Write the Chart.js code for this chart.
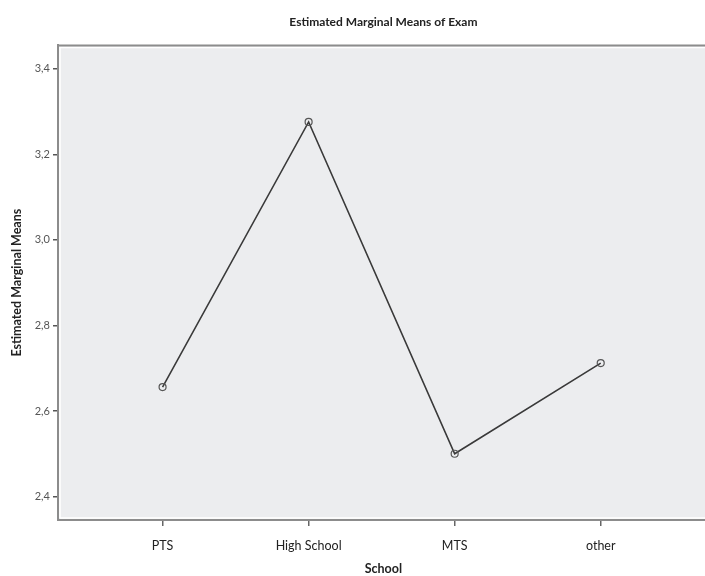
<!DOCTYPE html>
<html>
<head>
<meta charset="utf-8">
<script src="https://cdn.jsdelivr.net/npm/chart.js@4.4.1/dist/chart.umd.min.js"></script>
<style>
    html, body { margin: 0; padding: 0; background: #fff; overflow: hidden; }
    #wrap { width: 714px; height: 576px; }
</style>
</head>
<body>
<div id="wrap"><canvas id="meansChart"></canvas></div>
<script>
const schools = ['PTS', 'High School', 'MTS', 'other'];
const examMeans = [2.656, 3.276, 2.500, 2.712];
const yTicks = [2.4, 2.6, 2.8, 3.0, 3.2, 3.4];

const FONT = 'Lato, "Open Sans", sans-serif';

// grey plot panel with a thin white inner edge and the top frame line
const panelPlugin = {
    id: 'panel',
    beforeDraw(chart) {
        const { ctx, chartArea: a } = chart;
        ctx.save();
        ctx.fillStyle = '#ecedef';
        ctx.fillRect(a.left, a.top, a.right - a.left, a.bottom - a.top);
        ctx.strokeStyle = '#ffffff';
        ctx.lineWidth = 1.5;
        ctx.beginPath();
        ctx.moveTo(a.left + 2, a.bottom - 2);
        ctx.lineTo(a.left + 2, a.top + 2);
        ctx.lineTo(a.right, a.top + 2);
        ctx.moveTo(a.left + 2, a.bottom - 2);
        ctx.lineTo(a.right, a.bottom - 2);
        ctx.stroke();
        ctx.strokeStyle = '#8c8c8c';
        ctx.lineWidth = 2;
        ctx.beginPath();
        ctx.moveTo(a.left, a.top);
        ctx.lineTo(a.right, a.top);
        ctx.stroke();
        ctx.restore();
    }
};

const ctx = document.getElementById('meansChart').getContext('2d');

new Chart(ctx, {
    type: 'line',
    data: {
        datasets: [{
            label: 'Exam',
            data: examMeans.map((v, i) => ({ x: i, y: v })),
            borderColor: '#3a3a3a',
            borderWidth: 1.6,
            pointRadius: 3.5,
            pointBorderWidth: 1.2,
            pointBorderColor: '#555',
            pointBackgroundColor: 'rgba(0,0,0,0)',
            tension: 0
        }]
    },
    options: {
        responsive: true,
        maintainAspectRatio: false,
        animation: false,
        layout: { padding: { left: 0, right: 0, top: 0, bottom: 0 } },
        plugins: {
            legend: { display: false },
            tooltip: { enabled: false },
            title: {
                display: true,
                text: 'Estimated Marginal Means of Exam',
                fullSize: false,
                color: '#222',
                font: { family: FONT, size: 12, weight: 'bold' },
                padding: { top: 15, bottom: 16 }
            }
        },
        scales: {
            x: {
                type: 'linear',
                min: -0.716,
                max: 3.74,
                afterBuildTicks(scale) {
                    scale.ticks = schools.map((_, i) => ({ value: i }));
                },
                afterFit(scale) { scale.height = 56; },
                ticks: {
                    callback: (v) => schools[v],
                    color: '#222',
                    font: { family: FONT, size: 12.5 },
                    padding: 12,
                    maxRotation: 0,
                    autoSkip: false
                },
                grid: {
                    drawOnChartArea: false,
                    drawTicks: true,
                    tickLength: 6,
                    color: '#666',
                    lineWidth: 1.5
                },
                border: { display: true, color: '#8c8c8c', width: 2 },
                title: {
                    display: true,
                    text: 'School',
                    color: '#222',
                    font: { family: FONT, size: 12.5, weight: 'bold' },
                    padding: { top: 0, bottom: 0 }
                }
            },
            y: {
                min: 2.345,
                max: 3.455,
                afterBuildTicks(scale) {
                    scale.ticks = yTicks.map(v => ({ value: v }));
                },
                afterFit(scale) { scale.width = 58; },
                ticks: {
                    callback: (v) => v.toFixed(1).replace('.', ','),
                    color: '#555',
                    font: { family: FONT, size: 11 },
                    padding: 3
                },
                grid: {
                    drawOnChartArea: false,
                    drawTicks: true,
                    tickLength: 5,
                    color: '#555',
                    lineWidth: 1.5
                },
                border: { display: true, color: '#8c8c8c', width: 2 },
                title: {
                    display: true,
                    text: 'Estimated Marginal Means',
                    color: '#222',
                    font: { family: FONT, size: 12.5, weight: 'bold' },
                    padding: { top: 9, bottom: 4 }
                }
            }
        }
    },
    plugins: [panelPlugin]
});
</script>
</body>
</html>
